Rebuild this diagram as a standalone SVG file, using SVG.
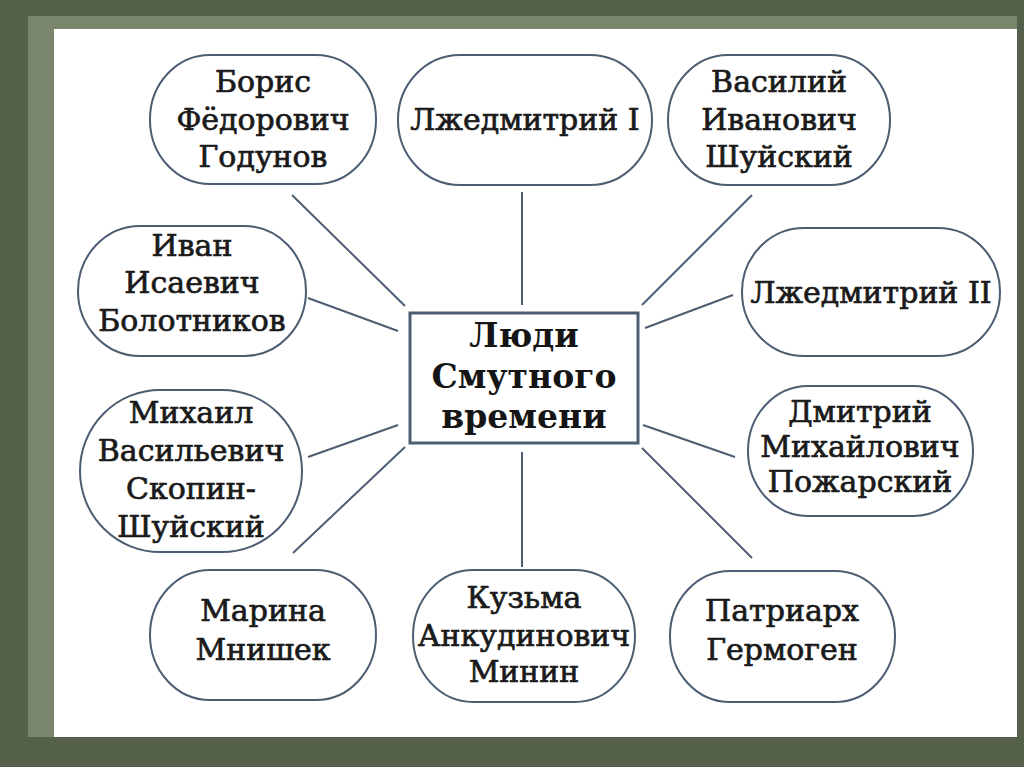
<svg xmlns="http://www.w3.org/2000/svg" width="1024" height="767" viewBox="0 0 1024 767">
<style>
.node{fill:#ffffff;stroke:#4d5d72;stroke-width:2}
.t{font-family:"DejaVu Serif","Liberation Serif",serif;font-size:30px;fill:#1a1a1a;stroke:#1a1a1a;stroke-width:0.7;text-anchor:middle}
.c{font-family:"DejaVu Serif","Liberation Serif",serif;font-size:33px;font-weight:bold;fill:#151515;text-anchor:middle}
.ln{stroke:#4d5d72;stroke-width:2;fill:none}
</style>
<rect x="0" y="0" width="1024" height="767" fill="#55604b"/>
<rect x="28" y="16" width="989" height="721" fill="#7a856e"/>
<rect x="54" y="29" width="963" height="708" fill="#ffffff"/>
<g id="connectors">
<line class="ln" x1="292" y1="195" x2="405" y2="306"/>
<line class="ln" x1="522" y1="192" x2="522" y2="305"/>
<line class="ln" x1="752" y1="195" x2="642" y2="305"/>
<line class="ln" x1="308" y1="298" x2="398" y2="331"/>
<line class="ln" x1="733" y1="295" x2="645" y2="328"/>
<line class="ln" x1="308" y1="457" x2="398" y2="425"/>
<line class="ln" x1="293" y1="553" x2="405" y2="447"/>
<line class="ln" x1="522" y1="452" x2="522" y2="567"/>
<line class="ln" x1="643" y1="425" x2="735" y2="457"/>
<line class="ln" x1="642" y1="448" x2="752" y2="558"/>
</g>
<g id="center">
<rect x="410" y="313" width="228" height="130" fill="#ffffff" stroke="#4d5d72" stroke-width="3"/>
<text class="c" x="524" y="347">Люди</text>
<text class="c" x="524" y="388">Смутного</text>
<text class="c" x="524" y="428">времени</text>
</g>
<g id="godunov">
<rect class="node" x="150" y="55" width="226" height="129" rx="60" ry="64"/>
<text class="t" x="263" y="92">Борис</text>
<text class="t" x="263" y="130">Фёдорович</text>
<text class="t" x="263" y="167">Годунов</text>
</g>
<g id="lzhedmitry1">
<rect class="node" x="398" y="55" width="254" height="130" rx="62" ry="65"/>
<text class="t" x="525" y="130">Лжедмитрий I</text>
</g>
<g id="shuisky">
<rect class="node" x="668" y="55" width="222" height="130" rx="60" ry="65"/>
<text class="t" x="779" y="92">Василий</text>
<text class="t" x="779" y="130">Иванович</text>
<text class="t" x="779" y="167">Шуйский</text>
</g>
<g id="bolotnikov">
<rect class="node" x="78" y="226" width="228" height="130" rx="62" ry="65"/>
<text class="t" x="192" y="256">Иван</text>
<text class="t" x="192" y="293">Исаевич</text>
<text class="t" x="192" y="331">Болотников</text>
</g>
<g id="lzhedmitry2">
<rect class="node" x="742" y="228" width="258" height="128" rx="62" ry="64"/>
<text class="t" x="871" y="303">Лжедмитрий II</text>
</g>
<g id="skopin">
<rect class="node" x="80" y="390" width="222" height="162" rx="80" ry="81"/>
<text class="t" x="191" y="423">Михаил</text>
<text class="t" x="191" y="461">Васильевич</text>
<text class="t" x="191" y="499">Скопин-</text>
<text class="t" x="191" y="537">Шуйский</text>
</g>
<g id="pozharsky">
<rect class="node" x="748" y="386" width="225" height="130" rx="60" ry="65"/>
<text class="t" x="860" y="422">Дмитрий</text>
<text class="t" x="860" y="457">Михайлович</text>
<text class="t" x="860" y="492">Пожарский</text>
</g>
<g id="mnishek">
<rect class="node" x="150" y="570" width="226" height="130" rx="60" ry="65"/>
<text class="t" x="263" y="621">Марина</text>
<text class="t" x="263" y="660">Мнишек</text>
</g>
<g id="minin">
<rect class="node" x="413" y="570" width="222" height="132" rx="60" ry="66"/>
<text class="t" x="524" y="608">Кузьма</text>
<text class="t" x="524" y="646">Анкудинович</text>
<text class="t" x="524" y="682">Минин</text>
</g>
<g id="germogen">
<rect class="node" x="670" y="571" width="225" height="131" rx="60" ry="65"/>
<text class="t" x="782" y="621">Патриарх</text>
<text class="t" x="782" y="660">Гермоген</text>
</g>
</svg>
